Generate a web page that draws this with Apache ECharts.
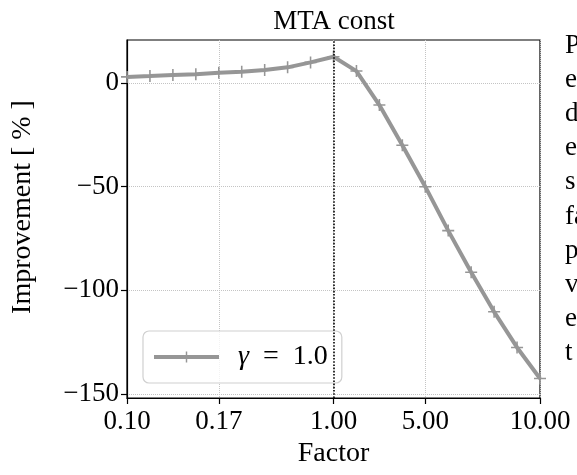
<!DOCTYPE html>
<html>
<head>
<meta charset="utf-8">
<script src="https://cdn.jsdelivr.net/npm/echarts@6/dist/echarts.min.js"></script>
<style>html,body{margin:0;padding:0;background:#fff}#c{width:577px;height:475px}</style>
</head>
<body>
<div id="c"></div>
<script>
var categories = ['0.10','0.11','0.12','0.14','0.17','0.20','0.25','0.33','0.50','1.00','2.00','3.00','4.00','5.00','6.00','7.00','8.00','9.00','10.00'];
var improvement = [3.0, 3.4, 3.9, 4.3, 5.0, 5.5, 6.3, 7.6, 10.0, 12.7, 5.8, -10.6, -30.0, -50.0, -71.2, -91.3, -110.4, -127.6, -142.6];
var shownTicks = ['0.10','0.17','1.00','5.00','10.00'];
var yTicks = [0, -50, -100, -150];
var seriesName = 'γ = 1.0';
var sideText = ['P','e','d','e','s','fa','p','v','e','t'];

var FONT = 'Liberation Serif';
var FS = 27;
var gray = '#969696';
var plusPath = 'path://M-0.13,-1H0.13V-0.13H1V0.13H0.13V1H-0.13V0.13H-1V-0.13H-0.13Z';
function isShown(i, v){ return shownTicks.indexOf(categories[i]) >= 0; }

var graphics = [{
  type: 'text', x: 334, y: 22,
  style: {text: 'MTA const', font: '27px "' + FONT + '"', fill: '#000', align: 'center', verticalAlign: 'middle'}
}, {
  type: 'text', x: 23, y: 207, rotation: Math.PI / 2,
  style: {text: 'Improvement [ % ]', font: '28px "' + FONT + '"', fill: '#000', align: 'center', verticalAlign: 'middle'}
}];
sideText.forEach(function(t, i){
  graphics.push({type: 'text', x: 565, y: 46 + 34.1 * i,
    style: {text: t, font: '27px "' + FONT + '"', fill: '#000', align: 'left', verticalAlign: 'middle'}});
});

var chart = echarts.init(document.getElementById('c'), null, {renderer: 'canvas'});
chart.setOption({
  animation: false,
  backgroundColor: '#fff',
  textStyle: {fontFamily: FONT},
  grid: {left: 127, right: 37, top: 40, bottom: 77, show: true, borderColor: '#000', borderWidth: 1.2, backgroundColor: 'transparent'},
  graphic: graphics,
  legend: {
    left: 143, top: 331,
    itemWidth: 65, itemHeight: 14,
    padding: [12, 14, 12, 9],
    borderColor: '#d0d0d0', borderWidth: 1.2, borderRadius: 6,
    backgroundColor: 'rgba(255,255,255,0.8)',
    formatter: function(){ return '{g|γ}  =  1.0'; },
    data: [{name: seriesName}],
    lineStyle: {width: 4, color: gray},
    textStyle: {fontFamily: FONT, fontSize: 28, color: '#000', padding: [0,0,0,14],
      rich: {g: {fontFamily: FONT, fontSize: 28, fontStyle: 'italic', color: '#000'}}}
  },
  xAxis: {
    type: 'category', data: categories, boundaryGap: false,
    name: 'Factor', nameLocation: 'middle', nameGap: 40,
    nameTextStyle: {fontFamily: FONT, fontSize: 28, color: '#000'},
    axisLine: {show: true, onZero: false, lineStyle: {color: '#000', width: 1.2}},
    axisTick: {show: true, inside: false, length: 6, interval: isShown, lineStyle: {color: '#000', width: 1.2}},
    axisLabel: {interval: isShown, fontFamily: FONT, fontSize: FS, color: '#000', margin: 10},
    splitLine: {show: true, interval: isShown, lineStyle: {color: '#c4c4c4', type: 'dotted', width: 1}}
  },
  yAxis: {
    type: 'value', min: -152, max: 20.8,
    axisLine: {show: true, lineStyle: {color: '#000', width: 1.2}},
    axisTick: {show: true, length: 6, customValues: yTicks, lineStyle: {color: '#000', width: 1.2}},
    axisLabel: {fontFamily: FONT, fontSize: FS, color: '#000', margin: 8, customValues: yTicks,
      formatter: function(v){ return v < 0 ? '\u2212' + Math.abs(v) : String(v); }},
    splitLine: {show: true, lineStyle: {color: '#c4c4c4', type: 'dotted', width: 1}}
  },
  series: [{
    name: seriesName, type: 'line', data: improvement,
    symbol: plusPath, symbolSize: 12, showAllSymbol: true,
    lineStyle: {color: gray, width: 4},
    itemStyle: {color: gray},
    markLine: {
      silent: true, symbol: 'none', label: {show: false},
      lineStyle: {color: '#000', type: 'dotted', width: 1.6},
      data: [{xAxis: '1.00'}]
    }
  }]
});
</script>
</body>
</html>
